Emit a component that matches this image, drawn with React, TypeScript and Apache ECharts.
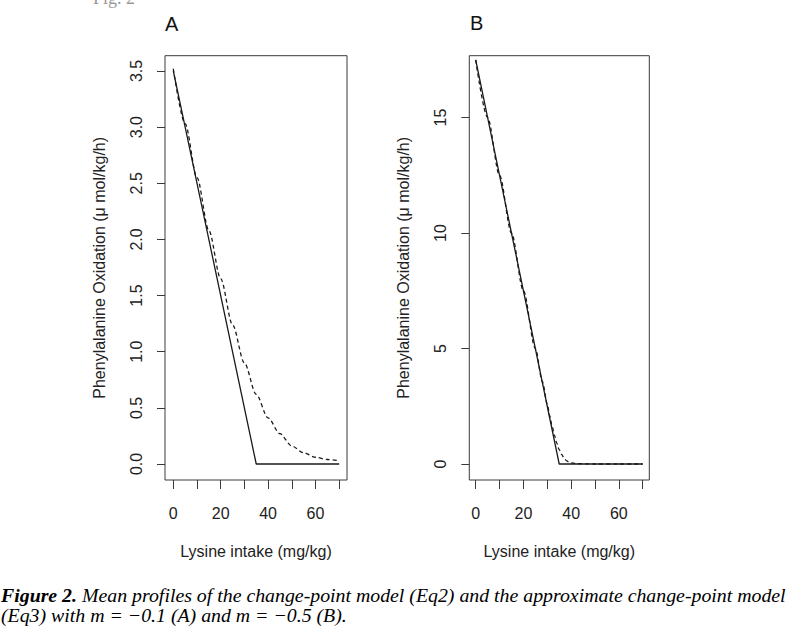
import { useEffect, useRef } from "react";
import * as echarts from "echarts";

// ---- data ----
const xTickValues = [0, 10, 20, 30, 40, 50, 60, 70];
const xLabelValues = [0, 20, 40, 60];
const yTickValuesA = [0, 0.5, 1, 1.5, 2, 2.5, 3, 3.5];
const yTickValuesB = [0, 5, 10, 15];

// Panel A (m = -0.1)
const changePointXA = [0, 35, 70];
const changePointYA = [3.5, 0, 0];
const approxXA = [0, 5, 10, 15, 20, 25, 30, 35, 40, 45, 50, 55, 60, 65, 70];
const approxYA = [3.52, 3.03, 2.55, 2.08, 1.65, 1.24, 0.9, 0.62, 0.41, 0.27, 0.16, 0.1, 0.06, 0.04, 0.03];

// Panel B (m = -0.5)
const changePointXB = [0, 35, 70];
const changePointYB = [17.5, 0, 0];
const approxXB = [0, 5, 10, 15, 20, 25, 28, 30, 31, 32, 33, 34, 35, 36, 37, 38, 39, 40, 42, 45, 50, 60, 70];
const approxYB = [17.5, 15.0, 12.5, 10.0, 7.5, 5.0, 3.55, 2.6, 2.1, 1.65, 1.25, 0.9, 0.62, 0.42, 0.26, 0.15, 0.09, 0.05, 0.02, 0.01, 0, 0, 0];

const panelTitles = ["A", "B"];
const xAxisTitle = "Lysine intake (mg/kg)";
const yAxisTitle = "Phenylalanine Oxidation (\u03bc mol/kg/h)";
const figureTag = "Fig. 2";
const captionBold = "Figure 2.";
const captionLine1 = " Mean profiles of the change-point model (Eq2) and the approximate change-point model";
const captionLine2 = "(Eq3) with m = \u22120.1 (A) and m = \u22120.5 (B).";

const zip = (xs: number[], ys: number[]) => xs.map((x, i) => [x, ys[i]]);

const SANS = "'Liberation Sans', Arial, sans-serif";
const SERIF = "'Liberation Serif', 'Times New Roman', serif";
const INK = "#1a1a1a";
const FRAME = "#3a3a3a";

function measure(font: string, text: string): number {
  const c = document.createElement("canvas");
  const ctx = c.getContext("2d");
  if (!ctx) return text.length * 8;
  ctx.font = font;
  return ctx.measureText(text).width;
}

export default function App() {
  const ref = useRef<HTMLDivElement>(null);

  useEffect(() => {
    if (!ref.current) return;
    const chart = echarts.init(ref.current, null, { renderer: "svg", width: 788, height: 633 });

    const capSize = 19;
    const w1 =
      measure(`italic bold ${capSize}px 'Liberation Serif'`, captionBold) +
      measure(`italic ${capSize}px 'Liberation Serif'`, captionLine1);
    const capScale = 785 / w1;

    const mkX = (gridIndex: number, min: number, max: number) => ({
      type: "value",
      gridIndex,
      min,
      max,
      splitLine: { show: false },
      axisLine: { show: false, onZero: false },
      axisTick: { show: true, inside: false, length: 9, customValues: xTickValues, lineStyle: { color: FRAME, width: 1 } },
      axisLabel: { customValues: xLabelValues, margin: 25, fontSize: 16, fontFamily: SANS, color: "#222" },
      name: xAxisTitle,
      nameLocation: "middle",
      nameGap: 63,
      nameTextStyle: { fontSize: 16, fontFamily: SANS, color: "#222" },
    });

    const mkY = (gridIndex: number, min: number, max: number, ticks: number[], fmt: (v: number) => string) => ({
      type: "value",
      gridIndex,
      min,
      max,
      splitLine: { show: false },
      axisLine: { show: false, onZero: false },
      axisTick: { show: true, inside: false, length: 8, customValues: ticks, lineStyle: { color: FRAME, width: 1 } },
      axisLabel: { customValues: ticks, rotate: 90, margin: 21, fontSize: 16, fontFamily: SANS, color: "#222", formatter: fmt },
      name: yAxisTitle,
      nameLocation: "middle",
      nameRotate: 90,
      nameGap: 58,
      nameTextStyle: { fontSize: 16, fontFamily: SANS, color: "#222" },
    });

    const lineSeries = (idx: number, data: number[][], dashed: boolean) => ({
      type: "line",
      xAxisIndex: idx,
      yAxisIndex: idx,
      data,
      showSymbol: false,
      symbol: "none",
      smooth: dashed ? 0.3 : false,
      smoothMonotone: "x",
      lineStyle: { color: INK, width: 1.3, type: dashed ? [4, 3] : "solid" },
      z: dashed ? 3 : 4,
    });

    chart.setOption({
      animation: false,
      backgroundColor: "#ffffff",
      grid: [
        { left: 165, top: 55.7, width: 182, height: 424.3, show: true, borderColor: FRAME, borderWidth: 1, backgroundColor: "transparent" },
        { left: 469.3, top: 55.7, width: 180, height: 424.3, show: true, borderColor: FRAME, borderWidth: 1, backgroundColor: "transparent" },
      ],
      xAxis: [mkX(0, -3.5, 73.3), mkX(1, -2.68, 72.76)],
      yAxis: [
        mkY(0, -0.1425, 3.636, yTickValuesA, (v: number) => v.toFixed(1)),
        mkY(1, -0.693, 17.68, yTickValuesB, (v: number) => String(Math.round(v))),
      ],
      series: [
        lineSeries(0, zip(changePointXA, changePointYA), false),
        lineSeries(0, zip(approxXA, approxYA), true),
        lineSeries(1, zip(changePointXB, changePointYB), false),
        lineSeries(1, zip(approxXB, approxYB), true),
      ],
      graphic: [
        { type: "text", x: 165, y: 14, style: { text: panelTitles[0], fontSize: 20, fontFamily: SANS, fill: "#111" } },
        { type: "text", x: 470, y: 13, style: { text: panelTitles[1], fontSize: 20, fontFamily: SANS, fill: "#111" } },
        { type: "text", x: 93, y: -11, style: { text: figureTag, fontSize: 18, fontFamily: SERIF, fill: "#999" } },
        {
          type: "text",
          x: 1,
          y: 586,
          scaleX: capScale,
          style: {
            text: `{b|${captionBold}}{i|${captionLine1}}`,
            rich: {
              b: { fontSize: capSize, fontFamily: SERIF, fontStyle: "italic", fontWeight: "bold", fill: "#000" },
              i: { fontSize: capSize, fontFamily: SERIF, fontStyle: "italic", fill: "#000" },
            },
          },
        },
        {
          type: "text",
          x: 1,
          y: 606.5,
          scaleX: capScale,
          style: { text: captionLine2, fontSize: capSize, fontFamily: SERIF, fontStyle: "italic", fill: "#000" },
        },
      ],
    });

    return () => chart.dispose();
  }, []);

  return <div ref={ref} style={{ position: "fixed", left: 0, top: 0, width: 788, height: 633, background: "#fff" }} />;
}
